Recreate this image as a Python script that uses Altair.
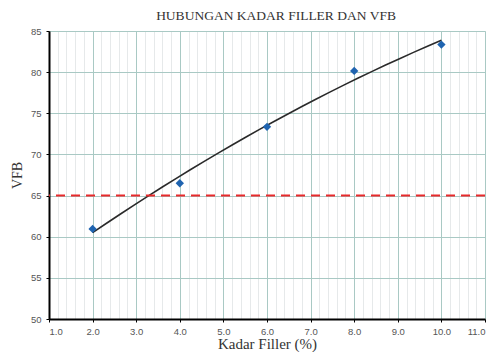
import altair as alt
import pandas as pd

filler = [2.0, 4.0, 6.0, 8.0, 10.0]
vfb = [60.95, 66.5, 73.35, 80.15, 83.35]
limit_value = [65]

x_major = [1.0, 2.0, 3.0, 4.0, 5.0, 6.0, 7.0, 8.0, 9.0, 10.0, 11.0]
x_minor = [round(1.0 + 0.2 * i, 1) for i in range(51)]
y_ticks = [50, 55, 60, 65, 70, 75, 80, 85]

df = pd.DataFrame({"filler": filler, "vfb": vfb})
lim = pd.DataFrame({"v": limit_value})

xs = alt.Scale(domain=[1, 11], nice=False)
ys = alt.Scale(domain=[50, 85], nice=False)

minor_axis = alt.Axis(
    values=x_minor, grid=True, gridColor="#e6e9ea", labels=False, ticks=False,
    domain=False, title=None, orient="bottom",
)

x_axis = alt.Axis(
    values=x_major,
    format=".1f",
    grid=True,
    gridColor="#a9c9c4",
    tickColor="#000000",
    tickSize=3,
    domainColor="#000000",
    domainWidth=2,
    labelFont="Liberation Sans",
    labelFontSize=9.5,
    labelColor="#555",
    labelPadding=4,
    labelOverlap=False,
    title="Kadar Filler (%)",
    titleFont="Liberation Serif",
    titleFontSize=15,
    titleFontWeight="normal",
    titleColor="#333",
    titlePadding=1,
    orient="bottom",
)
y_axis = alt.Axis(
    values=y_ticks,
    format="d",
    grid=True,
    gridColor="#a9c9c4",
    tickColor="#000000",
    tickSize=3,
    domainColor="#000000",
    domainWidth=2,
    labelFont="Liberation Sans",
    labelFontSize=9.5,
    labelColor="#555",
    labelPadding=5,
    title="VFB",
    titleFont="Liberation Serif",
    titleFontSize=14,
    titleFontWeight="normal",
    titleColor="#333",
    titlePadding=6,
)

base = alt.Chart(df)

minor = base.mark_point(opacity=0).encode(
    x=alt.X("filler:Q", scale=xs, axis=minor_axis),
)

trend = base.transform_regression(
    "filler", "vfb", method="poly", order=2
).mark_line(color="#2a2a2a", strokeWidth=1.6).encode(
    x=alt.X("filler:Q", scale=xs, axis=x_axis),
    y=alt.Y("vfb:Q", scale=ys, axis=y_axis),
)

pts = base.mark_point(shape="diamond", filled=True, size=70, color="#1f64b0", opacity=1).encode(
    x=alt.X("filler:Q", scale=xs, axis=None),
    y=alt.Y("vfb:Q", scale=ys),
)

rule = alt.Chart(lim).mark_rule(color="#e8292b", strokeWidth=2, strokeDash=[9, 6]).encode(
    y=alt.Y("v:Q", scale=ys)
)

chart = alt.layer(minor, trend, rule, pts).resolve_axis(x="independent").properties(
    width=436,
    height=288,
    title=alt.TitleParams(
        "HUBUNGAN KADAR FILLER DAN VFB",
        font="Liberation Serif",
        fontSize=13.5,
        fontWeight="normal",
        color="#333",
        offset=4,
        dx=9,
    ),
    padding={"left": 2, "top": 0, "right": 3, "bottom": 0},
).configure_view(stroke="#cfd6d8", strokeWidth=1).configure(background="white")

chart.save("out.html", embed_options={"renderer": "svg", "actions": False})
